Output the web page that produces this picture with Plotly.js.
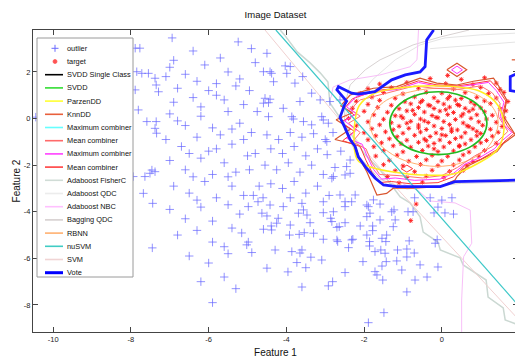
<!DOCTYPE html>
<html><head><meta charset="utf-8">
<script src="https://cdn.plot.ly/plotly-3.0.1.min.js"></script>
<style>html,body{margin:0;padding:0;overflow:hidden;background:#fff;width:515px;height:358px}#chart{width:520px;height:358px}</style>
</head><body><div id="chart"></div><script>
const xTicks = [-10,-8,-6,-4,-2,0];
const yTicks = [-8,-6,-4,-2,0,2];

const outlierPts = [
[-7.89,3.02],[-7.77,3.02],[-7.85,2.01],[-7.72,1.94],[-7.55,1.94],[-7.38,1.73],[-7.35,1.44],[-7.29,1.15],[-7.89,1.23],[-7.81,0.37],[-7.59,-0.13],[-7.35,-0.13],[-7.38,-0.42],[-7.34,-0.63],[-10.45,0.06],[-7.94,-2.49],[-7.64,-2.49],[-7.51,-2.35],[-7.46,-2.21],[-7.38,-2.28],[-7.68,-3.21],[-7.44,-3.64],[-7.45,-5.55],
[-6.94,3.46],[-5.24,3.29],
[-6.4,2.9],[-5.7,2.6],[-6.9,2.5],
[-7.0,2.2],[-6.6,1.9],[-6.1,2.3],[-5.5,2.0],[-5.2,1.7],[-6.3,1.6],[-5.8,1.5],[-7.1,1.8],
[-6.8,1.3],[-6.4,0.9],[-6.0,1.2],[-5.6,0.8],[-5.3,1.4],[-5.1,0.6],[-6.9,0.7],[-6.2,0.5],[-5.8,1.0],
[-7.0,0.2],[-6.6,-0.3],[-6.2,0.1],[-5.9,-0.4],[-5.5,0.3],[-5.2,-0.2],[-6.8,-0.1],[-5.4,-0.45],
[-7.1,-0.9],[-6.7,-1.2],[-6.3,-0.8],[-6.0,-1.4],[-5.7,-0.7],[-5.4,-1.1],[-5.1,-0.9],[-6.5,-1.5],[-5.8,-1.3],
[-7.0,-1.8],[-6.6,-2.2],[-6.2,-1.7],[-5.9,-2.4],[-5.6,-1.9],[-5.3,-2.3],[-5.0,-1.6],[-6.4,-2.5],[-5.5,-2.5],
[-6.9,-2.9],[-6.5,-3.2],[-6.1,-2.7],[-5.8,-3.4],[-5.4,-2.9],[-5.1,-3.3],[-6.3,-3.5],
[-7.0,-3.9],[-6.6,-4.3],[-6.2,-3.8],[-5.9,-4.4],[-5.5,-3.7],[-5.2,-4.1],
[-6.8,-5.0],[-6.3,-4.8],[-5.9,-5.3],[-5.4,-4.7],[-5.6,-5.5],
[-6.5,-5.9],[-6.0,-6.2],[-5.5,-5.8],
[-6.2,-7.0],[-5.6,-6.8],[-5.3,-7.3],[-5.9,-7.9],
[-4.9,3.0],[-4.8,2.4],[-4.95,1.2],[-4.75,0.3],[-4.9,-0.6],[-4.8,-1.5],[-4.95,-2.2],[-4.7,-2.9],[-4.85,-3.3],
[-4.5,2.8],[-4.59,2.01],[-4.42,2.01],[-4.38,1.94],[-4.03,2.26],[-3.9,2.23],[-3.99,1.94],[-4.33,1.58],[-3.78,1.52],[-3.58,1.8],[-3.35,1.09],[-4.55,0.87],[-4.42,0.83],[-4.46,0.68],[-4.59,0.66],[-4.08,0.44],[-3.65,0.73],[-3.13,0.8],[-2.88,0.73],[-4.46,0.08],[-3.86,0.08],[-3.82,-0.02],[-3.56,-0.13],[-3.35,-0.27],[-3.09,0.08],[-3.05,-0.06],[-2.92,-0.2],
[-4.5,-0.7],[-4.2,-0.9],[-3.9,-0.6],[-3.6,-0.8],[-3.3,-0.65],[-3.0,-0.9],[-2.8,-0.6],
[-4.4,-1.3],[-4.1,-1.5],[-3.8,-1.2],[-3.5,-1.6],[-3.2,-1.3],[-2.95,-1.55],
[-4.55,-2.0],[-4.25,-2.2],[-3.95,-1.9],[-3.65,-2.3],[-3.35,-2.0],[-3.05,-2.4],[-2.75,-2.1],
[-4.4,-2.8],[-4.1,-3.0],[-3.8,-2.7],[-3.5,-3.2],[-3.2,-2.9],[-2.9,-3.3],[-4.6,-3.4],[-3.9,-3.4],
[-2.62,0.8],[-2.96,-0.99],[-2.36,-1.78],[-2.45,-2.06],[-2.83,-2.56],[-2.49,-2.42],[-2.36,-2.35],[-2.6,-1.4],
[-5.15,-4.91],[-4.98,-5.3],[-5.02,-5.42],[-4.89,-5.75],[-4.5,-6.42],[-4.29,-5.64],[-3.96,-6.58],[-3.6,-7.23],[-3.86,-5.71],[-3.65,-5.77],[-3.6,-5.64],[-3.73,-6.18],[-3.5,-6.4],[-3.37,-5.95],[-3.09,-6.07],[-2.92,-7.18],[-2.81,-7.0],[-3.39,-4.47],[-3.3,-4.92],[-3.05,-5.18],[-3.9,-4.57],[-3.67,-4.97],[-3.54,-4.9],[-3.92,-5.0],[-4.59,-4.75],[-4.39,-4.61],[-4.38,-4.78],[-4.25,-4.49],[-4.5,-4.18],[-4.63,-4.06],[-4.21,-4.28],[-3.69,-4.06],[-3.56,-3.92],[-3.47,-4.14],[-3.05,-4.04],[-2.86,-4.28],[-2.83,-4.42],[-4.98,-3.78],[-4.08,-3.78],[-3.6,-3.64],[-4.73,-3.57],[-4.42,-3.71],[-3.05,-3.57],
[-2.49,-6.61],[-2.68,-5.28],[-2.4,-5.54],[-2.29,-5.18],[-2.03,-6.14],[-1.86,-5.28],[-1.86,-5.47],[-1.72,-5.71],[-1.57,-5.64],[-1.46,-5.78],[-1.54,-5.14],[-1.44,-5.28],[-1.14,-5.64],[-1.16,-6.11],[-1.43,-6.14],[-1.54,-6.33],[-1.72,-6.57],[-1.67,-6.71],[-1.52,-6.93],[-1.49,-8.33],[-1.89,-8.76],[-2.49,-4.47],[-2.64,-4.64],[-2.1,-4.61],[-1.93,-4.21],[-1.85,-4.06],[-1.89,-3.78],[-1.59,-3.67],[-1.78,-4.61],[-1.78,-4.81],[-1.42,-5.0],[-1.25,-4.64],[-1.23,-3.92],[-2.49,-3.57],
[-2.79,-2.49],[-2.62,-3.28],[-2.32,-3.57],[-2.23,-3.28],[-2.49,-3.78],[-2.79,-4.0],[-2.7,-4.67],[-1.93,-3.71],[-1.76,-3.49],[-1.59,-4.35],[-1.29,-4.0],[-1.2,-4.35],[-2.7,-5.21],[-2.32,-5.21],[-1.93,-5.0],[-1.03,-6.5],
[-0.3,-3.4],[0.0,-3.5],[0.26,-3.4],[-0.1,-3.8],[-0.2,-4.05],[0.08,-4.05],[0.3,-4.1],[-0.7,-3.4],[-0.87,-4.0],[-0.74,-4.0],[-0.12,-5.2],[-0.17,-5.35],[-0.84,-5.25],[-0.9,-5.6],[-0.71,-5.77],[-0.9,-5.94],[-0.56,-6.28],[-0.1,-6.37],[-0.38,-6.8],[-0.69,-6.93],[-0.9,-7.44]
];

const targetPts = [
[-0.3,1.72],[0.5,1.68],[1.1,1.75],[0.15,1.85],
[-1.6,1.48],[-0.9,1.55],[0.1,1.5],[0.8,1.46],[1.4,1.52],
[-1.9,1.28],[-1.3,1.33],[-0.6,1.3],[0.3,1.27],[1.0,1.34],[1.5,1.25],
[-2.1,1.08],[-1.5,1.12],[-1.0,1.06],[-0.4,1.13],[0.0,1.09],[0.6,1.11],[1.2,1.07],[1.6,1.12],
[-1.8,0.92],[-1.2,0.87],[-0.7,0.93],[-0.2,0.89],[0.2,0.95],[0.5,0.86],[0.9,0.91],[1.4,0.88],
[-2.2,0.74],[-1.6,0.78],[-0.95,0.72],[-0.5,0.77],[-0.1,0.73],[0.35,0.79],[0.75,0.71],[1.1,0.76],[1.7,0.73],
[-1.9,0.61],[-1.3,0.57],[-0.8,0.63],[-0.35,0.58],[0.05,0.62],[0.45,0.56],[0.85,0.6],[1.25,0.64],
[-2.3,0.44],[-1.65,0.48],[-1.1,0.42],[-0.6,0.47],[-0.2,0.43],[0.2,0.49],[0.6,0.44],[1.0,0.46],[1.5,0.42],
[-2.0,0.31],[-1.4,0.27],[-0.9,0.33],[-0.45,0.28],[-0.05,0.32],[0.3,0.26],[0.7,0.31],[1.1,0.29],[1.65,0.33],
[-1.75,0.16],[-1.2,0.12],[-0.7,0.18],[-0.25,0.13],[0.15,0.17],[0.5,0.11],[0.9,0.16],[1.3,0.14],
[-2.4,0.01],[-1.5,-0.03],[-1.0,0.02],[-0.55,-0.02],[-0.1,0.03],[0.35,-0.04],[0.75,0.01],[1.15,-0.02],[1.6,0.03],
[-1.9,-0.14],[-1.3,-0.18],[-0.8,-0.12],[-0.35,-0.17],[0.05,-0.13],[0.55,-0.19],[0.95,-0.14],[1.4,-0.16],
[-2.2,-0.31],[-1.6,-0.27],[-1.1,-0.33],[-0.6,-0.28],[-0.2,-0.32],[0.2,-0.26],[0.65,-0.31],[1.05,-0.29],[1.55,-0.34],
[-1.8,-0.44],[-1.25,-0.48],[-0.85,-0.42],[-0.4,-0.47],[0.0,-0.43],[0.4,-0.49],[0.8,-0.44],[1.25,-0.46],
[-2.0,-0.61],[-1.45,-0.57],[-1.0,-0.63],[-0.55,-0.58],[-0.15,-0.62],[0.25,-0.56],[0.6,-0.61],[1.0,-0.64],[1.45,-0.59],
[-1.7,-0.74],[-1.15,-0.78],[-0.7,-0.72],[-0.3,-0.77],[0.1,-0.73],[0.5,-0.79],[0.9,-0.74],[1.3,-0.76],
[-1.9,-0.91],[-1.35,-0.87],[-0.9,-0.93],[-0.45,-0.88],[-0.05,-0.92],[0.35,-0.86],[0.75,-0.91],[1.15,-0.94],
[-1.55,-1.04],[-1.05,-1.08],[-0.6,-1.02],[-0.2,-1.07],[0.2,-1.03],[0.6,-1.09],[1.0,-1.04],[1.4,-1.06],
[-1.75,-1.21],[-1.25,-1.17],[-0.8,-1.23],[-0.35,-1.18],[0.05,-1.22],[0.45,-1.16],[0.85,-1.21],
[-1.5,-1.38],[-1.0,-1.43],[-0.5,-1.37],[-0.1,-1.42],[0.3,-1.39],[0.7,-1.44],[1.1,-1.37],
[-1.7,-1.61],[-1.15,-1.57],[-0.65,-1.63],[-0.25,-1.58],[0.15,-1.62],[0.55,-1.56],[0.95,-1.61],
[-1.35,-1.79],[-0.85,-1.83],[-0.4,-1.77],[0.0,-1.82],[0.45,-1.78],[0.8,-1.84],
[-1.5,-1.98],[-1.0,-2.03],[-0.55,-1.97],[-0.1,-2.02],[0.3,-1.99],[0.65,-2.04],
[-1.2,-2.24],[-0.7,-2.28],[-0.25,-2.22],[0.2,-2.27],[0.55,-2.23],
[-1.4,-2.49],[-0.9,-2.53],[-0.4,-2.47],[0.05,-2.52],
[-1.1,-2.76],[-0.5,-2.73],[-0.66,-3.67],[-0.8,-4.38],
[-0.75,0.35],[-0.3,0.55],[0.1,0.38],[0.55,0.2],[-0.45,-0.1],[0.25,-0.45],[-0.15,0.05],[0.4,0.6],[-0.6,-0.4],[0.0,-0.7],[0.7,-0.35],[-0.9,-0.2],[0.15,0.85],[-0.4,-0.95],[0.45,-1.2],[0.8,0.4],[-1.05,0.1],[-0.2,-1.3],[0.9,-0.55],[-0.55,0.7]
];

// decision boundaries (data coordinates)
const svddLine = [[1.16,-0.2],[1.065,0.317],[0.795,0.755],[0.388,1.047],[-0.09,1.15],[-0.568,1.047],[-0.974,0.755],[-1.245,0.317],[-1.34,-0.2],[-1.245,-0.717],[-0.974,-1.155],[-0.568,-1.447],[-0.09,-1.55],[0.388,-1.447],[0.795,-1.155],[1.065,-0.717],[1.16,-0.2]];
const parzenLine = [[-2.18,0.35],[-2.0,0.8],[-1.7,1.1],[-1.0,1.33],[-0.04,1.4],[0.98,1.17],[1.45,0.55],[1.6,-0.45],[1.42,-1.35],[0.9,-1.95],[0.3,-2.38],[-0.5,-2.42],[-1.2,-2.3],[-1.8,-2.1],[-2.18,-1.75],[-2.18,0.35]];
const knnLine = [[-2.36,1.01],[-2.6,0.55],[-2.3,0.25],[-2.72,-0.05],[-2.35,-0.45],[-2.75,-0.9],[-2.25,-1.1],[-2.1,-1.78],[-1.93,-2.28],[-1.76,-2.92],[-1.67,-3.28],[-1.42,-3.21],[-1.25,-2.99],[-0.73,-2.99],[-0.04,-2.92],[0.34,-2.64],[0.39,-2.49],[0.64,-2.06],[0.9,-1.85],[1.42,-1.42],[1.59,-1.06],[1.89,-0.7],[1.76,-0.35],[1.59,0.08],[1.67,0.8],[1.5,1.3],[1.33,1.73],[0.81,1.6],[0.39,1.44],[-0.13,1.52],[-0.56,1.73],[-1.16,1.37],[-1.76,1.3],[-2.36,1.01],[null,null],[0.13,2.09],[0.39,2.37],[0.64,2.09],[0.39,1.8],[0.13,2.09],[null,null],[1.8,2.52],[1.96,2.52]];
const meanLine1 = [[-2.1,0.8],[-2.35,0.4],[-2.1,0.1],[-2.4,-0.2],[-2.1,-0.6],[-2.3,-1.0],[-1.95,-1.3],[-1.8,-1.9],[-1.6,-2.4],[-1.1,-2.45],[-0.5,-2.55],[0.0,-2.45],[0.4,-2.1],[0.85,-1.6],[1.3,-1.2],[1.7,-0.55],[1.45,0.1],[1.5,0.65],[1.3,1.1],[1.0,1.4],[0.4,1.25],[-0.2,1.3],[-0.7,1.4],[-1.3,1.15],[-2.1,0.8]];
const maxLine2 = [[-2.2,0.95],[-2.45,0.5],[-2.2,0.2],[-2.5,-0.1],[-2.2,-0.5],[-2.45,-0.85],[-2.05,-1.1],[-1.9,-1.7],[-1.75,-2.2],[-1.55,-2.6],[-1.2,-2.55],[-0.7,-2.65],[-0.05,-2.6],[0.3,-2.35],[0.6,-1.95],[0.95,-1.7],[1.35,-1.3],[1.55,-0.95],[1.8,-0.6],[1.62,-0.3],[1.5,0.1],[1.6,0.7],[1.4,1.2],[1.2,1.55],[0.8,1.45],[0.4,1.35],[-0.15,1.4],[-0.6,1.55],[-1.15,1.25],[-1.7,1.15],[-2.2,0.95],[null,null],[0.25,2.09],[0.39,2.25],[0.53,2.09],[0.39,1.93],[0.25,2.09]];
const meanLine2 = [[-2.3,0.85],[-2.5,0.45],[-2.25,0.15],[-2.6,-0.15],[-2.25,-0.55],[-2.55,-0.95],[-2.1,-1.2],[-1.95,-1.8],[-1.8,-2.3],[-1.6,-2.75],[-1.3,-2.7],[-0.8,-2.8],[-0.1,-2.75],[0.3,-2.5],[0.6,-2.0],[1.0,-1.75],[1.4,-1.35],[1.6,-1.0],[1.85,-0.65],[1.68,-0.3],[1.55,0.1],[1.65,0.75],[1.45,1.25],[1.25,1.62],[0.8,1.5],[0.4,1.4],[-0.15,1.45],[-0.6,1.62],[-1.15,1.3],[-1.7,1.2],[-2.3,0.85],[null,null],[-1.05,-2.15],[-0.9,-2.0],[-0.75,-2.15],[-0.9,-2.3],[-1.05,-2.15]];
const fisherLine = [[-4.16,3.8],[-4.05,3.59],[-3.72,2.86],[-3.39,2.39],[-3.13,1.96],[-2.93,1.57],[-2.88,0.67],[-2.49,-0.28],[-2.23,-0.92],[-1.97,-1.56],[-1.59,-2.2],[-1.33,-2.76],[-1.07,-3.36],[-0.82,-3.62],[-0.56,-4.22],[-0.48,-4.87],[-0.1,-5.3],[-0.04,-5.64],[0.47,-5.98],[0.55,-6.28],[1.14,-6.93],[1.19,-7.66],[1.58,-8.13],[1.63,-8.64],[1.96,-8.85]];
const qdcLine = [[-2.49,0.15],[-2.1,1.01],[-1.79,1.66],[-1.2,2.52],[-0.56,3.16],[0.08,3.46],[0.99,3.59],[1.96,3.67],[null,null],[-0.3,3.0],[0.5,3.1],[1.96,3.29]];
const nbcLine = [[-0.6,3.8],[-0.64,2.52],[-0.82,2.22],[-1.59,1.87],[-2.36,1.66],[-2.8,1.35],[-2.85,0.9],[null,null],[-1.0,-2.8],[-0.6,-3.1],[-0.3,-3.54],[0.34,-3.62],[0.73,-3.93],[0.77,-5.35],[0.56,-5.93],[0.51,-7.79],[0.51,-9.2]];
const baggingLine = [[1.96,-2.72],[0.5,-2.78],[-0.9,-3.02],[-1.6,-2.6],[-2.2,-1.5],[-2.5,-0.5],[-2.5,0.6],[-2.36,1.44],[-1.97,2.09],[-1.59,2.52],[-0.74,3.16],[-0.04,3.5],[0.7,3.8]];
const rbnnLine = [[1.45,-0.2],[1.3,0.5],[0.8,1.1],[0.0,1.3],[-0.8,1.15],[-1.5,0.7],[-1.85,-0.1],[-1.7,-0.9],[-1.1,-1.7],[-0.2,-2.05],[0.6,-1.85],[1.2,-1.2],[1.45,-0.2]];
const nusvmLine = [[-4.27,3.8],[1.96,-8.0]];
const svmLine = [[-4.55,3.8],[-1.16,-2.99],[1.96,-8.6]];
const voteLine = [[-0.21,3.8],[-0.39,3.37],[-0.43,2.23],[-0.56,2.0],[-0.94,1.87],[-1.29,1.66],[-1.72,1.15],[-2.15,1.05],[-2.32,1.09],[-2.66,1.37],[-2.7,1.23],[-2.57,1.0],[-2.45,0.75],[-2.5,0.6],[-2.62,0.05],[-2.49,-0.4],[-2.36,-0.9],[-2.23,-1.2],[-2.15,-1.64],[-1.97,-2.06],[-1.72,-2.55],[-1.5,-2.85],[-1.16,-2.92],[-0.04,-2.92],[0.34,-2.71],[1.96,-2.64],[null,null],[1.96,1.95],[1.76,1.8],[1.76,1.2],[1.96,1.15]];

const legendLabels = ['outlier','target','SVDD Single Class','SVDD','ParzenDD','KnnDD','Maximum combiner','Mean combiner','Maximum combiner','Mean combiner','Adaboost FisherC','Adaboost QDC','Adaboost NBC','Bagging QDC','RBNN','nuSVM','SVM','Vote'];
const legendColors = ['#6a6aff','#ff3030','#000000','#33dd33','#ffff33','#e8603c','#66ffff','#ff6a6a','#ff40ff','#ff4040','#d0dcd6','#ececec','#ffc0ff','#d6d0d0','#ffb070','#40ccc4','#f0d4d4','#0000ff'];

const FONT = "'Liberation Sans',Arial,Helvetica,sans-serif";
const xs = a => a.map(p => p[0]);
const ys = a => a.map(p => p[1]);
const line = (pts, color, width, shape) => ({type:'scatter', mode:'lines', x:xs(pts), y:ys(pts), line:{color:color, width:width, shape:shape||'linear', smoothing:1}, hoverinfo:'skip', connectgaps:false});

const traces = [
  line(qdcLine, '#e4e4e4', 1),
  line(baggingLine, '#d8d2d2', 1),
  line(fisherLine, '#cbd8d2', 1.5),
  line(svmLine, '#f0d0d0', 1),
  line(nbcLine, '#f8bff8', 1),
  {type:'scatter', mode:'markers', x:xs(outlierPts), y:ys(outlierPts), marker:{symbol:'cross-thin-open', size:6, color:'rgba(100,100,255,0.7)', line:{color:'rgba(100,100,255,0.7)', width:1}}, hoverinfo:'skip'},
  {type:'scatter', mode:'markers', x:xs(targetPts), y:ys(targetPts), marker:{symbol:'asterisk-open', size:4, color:'rgba(255,20,20,0.85)', line:{color:'rgba(255,20,20,0.85)', width:1}}, hoverinfo:'skip'},
  line(rbnnLine, '#ffb070', 1, 'spline'),
  line(meanLine1, '#ff7070', 1),
  line(knnLine, '#d9552e', 1.2),
  line(meanLine2, '#ff3a3a', 1),
  line(maxLine2, '#ff33ff', 1),
  line(parzenLine, '#ffee22', 1.5, 'spline'),
  line(svddLine, '#22bb22', 1.6, 'spline'),
  line(nusvmLine, '#3cc8c8', 1.2),
  line(voteLine, '#1a1aff', 2.8)
];

// manual legend (MATLAB style, compact rows)
const L = 33, T = 30, W = 485, H = 302;
const px = v => (v - L) / W;
const py = v => (T + H - v) / H;
const shapes = [{type:'rect', xref:'paper', yref:'paper', x0:px(37), x1:px(133), y0:py(277), y1:py(38), line:{color:'#9a9a9a', width:1}, fillcolor:'#ffffff', layer:'above'}];
const annotations = [];
legendLabels.forEach((lab, i) => {
  const cy = 48.3 + 13.2 * i;
  if (i === 0) {
    shapes.push({type:'line', xref:'paper', yref:'paper', x0:px(51.5), x1:px(58.5), y0:py(cy), y1:py(cy), line:{color:legendColors[0], width:1}, layer:'above'});
    shapes.push({type:'line', xref:'paper', yref:'paper', x0:px(55), x1:px(55), y0:py(cy-3.5), y1:py(cy+3.5), line:{color:legendColors[0], width:1}, layer:'above'});
  } else if (i === 1) {
    shapes.push({type:'circle', xref:'paper', yref:'paper', x0:px(53), x1:px(57), y0:py(cy+2), y1:py(cy-2), line:{color:'rgba(255,80,80,0.7)', width:1}, fillcolor:'rgba(255,40,40,0.8)', layer:'above'});
  } else {
    shapes.push({type:'line', xref:'paper', yref:'paper', x0:px(45), x1:px(63), y0:py(cy), y1:py(cy), line:{color:legendColors[i], width:(i===17?3:1.6)}, layer:'above'});
  }
  annotations.push({xref:'paper', yref:'paper', x:px(65), y:py(cy), xanchor:'left', yanchor:'middle', text:lab, showarrow:false, font:{family:FONT, size:7.4, color:'#111'}});
});

const axisBase = {showgrid:false, zeroline:false, showline:true, linecolor:'#444', linewidth:1, mirror:'ticks', ticks:'inside', ticklen:5, tickcolor:'#444', tickfont:{family:FONT, size:7.5, color:'#222'}};

const layout = {
  width:520, height:358,
  margin:{l:L, r:520-L-W, t:T, b:358-T-H},
  paper_bgcolor:'#fff', plot_bgcolor:'#fff',
  showlegend:false,
  title:{text:'Image Dataset', x:0.5, xref:'paper', y:1-15/358, yref:'container', yanchor:'middle', font:{family:FONT, size:9.5, color:'#111'}},
  xaxis:Object.assign({}, axisBase, {range:[-10.52,1.96], tickvals:xTicks, ticktext:xTicks.map(String), title:{text:'Feature 1', font:{family:FONT, size:10, color:'#111'}, standoff:5}}),
  yaxis:Object.assign({}, axisBase, {range:[-9.16,3.8], tickvals:yTicks, ticktext:yTicks.map(String), title:{text:'Feature 2', font:{family:FONT, size:10, color:'#111'}, standoff:1}}),
  shapes:shapes, annotations:annotations
};
Plotly.newPlot('chart', traces, layout, {displayModeBar:false, staticPlot:true});
</script></body></html>
